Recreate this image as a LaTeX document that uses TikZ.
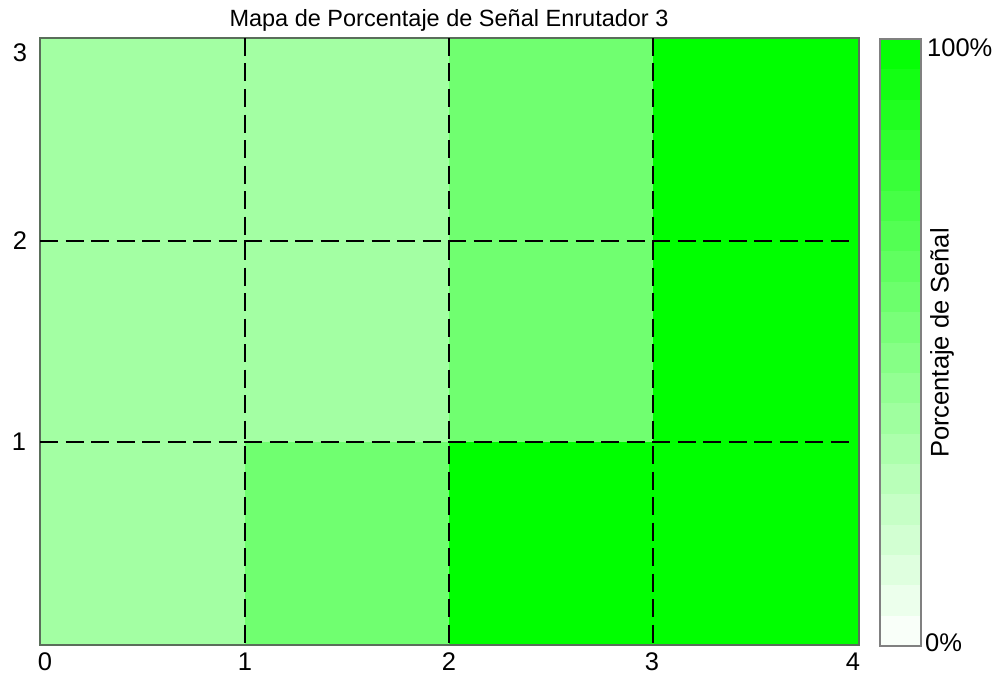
\documentclass[tikz,border=0pt]{standalone}
\usepackage{fontspec}
\setmainfont{Liberation Sans}
\definecolor{lightg}{RGB}{163,255,163}
\definecolor{midg}{RGB}{112,255,112}
\definecolor{fullg}{RGB}{0,255,0}
\definecolor{framec}{RGB}{90,110,90}
\begin{document}
\begin{tikzpicture}[x=1pt,y=-1pt,
  gridline/.style={black,line width=2.7pt,dash pattern=on 18pt off 7.5pt},
  tick/.style={font=\fontsize{25.5}{25.5}\selectfont,inner sep=0pt},
  ttl/.style={font=\fontsize{23.5}{23.5}\selectfont,inner sep=0pt},
  lbl/.style={font=\fontsize{25.5}{25.5}\selectfont,inner sep=0pt}]
\useasboundingbox (0,0) rectangle (1002,677);
% row 2-3 (top)
\fill[lightg] (40,38) rectangle (245,241);
\fill[lightg] (245,38) rectangle (449,241);
\fill[midg] (449,38) rectangle (653,241);
\fill[fullg] (653,38) rectangle (859,241);
% row 1-2
\fill[lightg] (40,241) rectangle (245,442);
\fill[lightg] (245,241) rectangle (449,442);
\fill[midg] (449,241) rectangle (653,442);
\fill[fullg] (653,241) rectangle (859,442);
% row 0-1
\fill[lightg] (40,442) rectangle (245,645);
\fill[midg] (245,442) rectangle (449,645);
\fill[fullg] (449,442) rectangle (653,645);
\fill[fullg] (653,442) rectangle (859,645);
\draw[framec,line width=1.2pt] (40,38) rectangle (859,645);
% dashed grid
\coordinate (v1t) at (245,38); \coordinate (v1b) at (245,645);
\coordinate (v2t) at (449,38); \coordinate (v2b) at (449,645);
\coordinate (v3t) at (653,38); \coordinate (v3b) at (653,645);
\coordinate (h2l) at (40,241); \coordinate (h2r) at (855,241);
\coordinate (h1l) at (40,442); \coordinate (h1r) at (855,442);
\draw[gridline] (v1t) -- (v1b);
\draw[gridline] (v2t) -- (v2b);
\draw[gridline] (v3t) -- (v3b);
\draw[gridline] (h2l) -- (h2r);
\draw[gridline] (h1l) -- (h1r);
% colorbar
\foreach \i in {0,...,19} {
  \pgfmathsetmacro{\pct}{(\i+0.5)*5}
  \pgfmathsetmacro{\ya}{646-\i*30.35}
  \pgfmathsetmacro{\yb}{646-(\i+1)*30.35}
  \fill[fullg!\pct!white] (880,\ya) rectangle (921,\yb);
}
\draw[gray,line width=1.2pt] (880,39) rectangle (921,646);
% texts
\node[ttl] (title) at (449,20) {Mapa de Porcentaje de Señal Enrutador 3};
\node[tick] (x0) at (45,662) {0};
\node[tick] (x1) at (245,662) {1};
\node[tick] (x2) at (449,662) {2};
\node[tick] (x3) at (652,662) {3};
\node[tick] (x4) at (853,662) {4};
\node[tick] (y3) at (20,53) {3};
\node[tick] (y2) at (20,241) {2};
\node[tick] (y1) at (19,442) {1};
\node[lbl,anchor=west] (c100) at (927,48) {100\%};
\node[lbl,anchor=west] (c0) at (925,643) {0\%};
\node[lbl,rotate=90] (cl) at (942,343) {Porcentaje de Señal};
\end{tikzpicture}
\end{document}
